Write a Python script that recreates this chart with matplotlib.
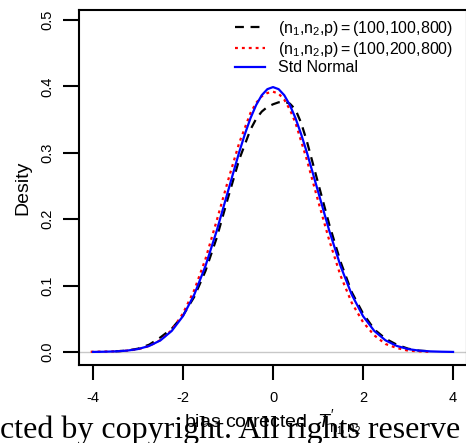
import matplotlib
matplotlib.use('Agg')
import matplotlib.pyplot as plt

plt.rcParams['font.family'] = ['Liberation Sans', 'DejaVu Sans']
plt.rcParams['mathtext.fontset'] = 'custom'
plt.rcParams['mathtext.rm'] = 'Liberation Sans'
plt.rcParams['mathtext.it'] = 'Liberation Sans:italic'

# density curves
x_std = [-4, -3.75, -3.5, -3.25, -3, -2.75, -2.5, -2.25, -2, -1.75, -1.5, -1.25, -1, -0.875,
         -0.75, -0.625, -0.5, -0.375, -0.25, -0.125, 0, 0.125, 0.25, 0.375, 0.5, 0.625,
         0.75, 0.875, 1, 1.25, 1.5, 1.75, 2, 2.25, 2.5, 2.75, 3, 3.25, 3.5, 3.75, 4]
y_std = [0.0001, 0.0004, 0.0009, 0.002, 0.0044, 0.0091, 0.0175, 0.0317, 0.054, 0.0863,
         0.1295, 0.1826, 0.242, 0.2717, 0.3011, 0.328, 0.3521, 0.3718, 0.3867, 0.3958,
         0.3989, 0.3958, 0.3867, 0.3718, 0.3521, 0.328, 0.3011, 0.2717, 0.242, 0.1826,
         0.1295, 0.0863, 0.054, 0.0317, 0.0175, 0.0091, 0.0044, 0.002, 0.0009, 0.0004,
         0.0001]

x_a = [-3.5, -3.25, -3, -2.75, -2.5, -2.25, -2, -1.75, -1.5, -1.25, -1, -0.75, -0.5, -0.375,
       -0.25, -0.125, 0, 0.125, 0.25, 0.375, 0.5, 0.625, 0.75, 1, 1.25, 1.5, 1.75, 2,
       2.25, 2.5, 2.75, 3, 3.25, 3.5]
y_a = [0.001, 0.002, 0.005, 0.011, 0.022, 0.035, 0.055, 0.083, 0.122, 0.172, 0.232, 0.29,
       0.335, 0.351, 0.362, 0.369, 0.373, 0.376, 0.377, 0.374, 0.365, 0.345, 0.318, 0.255,
       0.192, 0.136, 0.09, 0.058, 0.034, 0.02, 0.011, 0.005, 0.002, 0.001]

x_b = [-4.05, -3.75, -3.5, -3.25, -3, -2.75, -2.5, -2.25, -2, -1.75, -1.5, -1.25, -1, -0.75,
       -0.5, -0.375, -0.25, -0.125, 0, 0.125, 0.25, 0.375, 0.5, 0.75, 1, 1.25, 1.5, 1.75,
       2, 2.25, 2.5, 2.75, 3, 3.25, 3.45]
y_b = [0.0003, 0.0006, 0.001, 0.002, 0.004, 0.009, 0.018, 0.033, 0.058, 0.093, 0.14, 0.198,
       0.258, 0.315, 0.36, 0.375, 0.385, 0.39, 0.392, 0.389, 0.38, 0.365, 0.345, 0.29,
       0.228, 0.168, 0.115, 0.074, 0.045, 0.025, 0.012, 0.006, 0.002, 0.001, 0.0003]

lab_a = r'$(\mathrm{n}_1{,}\mathrm{n}_2{,}\mathrm{p})=(100{,}100{,}800)$'
lab_b = r'$(\mathrm{n}_1{,}\mathrm{n}_2{,}\mathrm{p})=(100{,}200{,}800)$'

fig = plt.figure(figsize=(4.66, 4.43), dpi=100)
ax = fig.add_axes([79/466, 1-365/443, 388/466, 355/443])

ax.axhline(0, color='#c8c8c8', lw=1, zorder=0)
ax.plot(x_a, y_a, color='black', lw=1.6, ls=(0, (4, 3)), label=lab_a)
ax.plot(x_b, y_b, color='red', lw=1.6, ls=(0, (1.3, 1.8)), label=lab_b)
ax.plot(x_std, y_std, color='blue', lw=1.6, label='Std Normal')

ax.set_xlim(-4.31, 4.31)
ax.set_ylim(-0.0196, 0.515)
ax.set_xticks([-4, -2, 0, 2, 4])
ax.set_xticklabels(['-4', '-2', '0', '2', '4'])
ax.set_yticks([0.0, 0.1, 0.2, 0.3, 0.4, 0.5])
ax.set_yticklabels(['0.0', '0.1', '0.2', '0.3', '0.4', '0.5'], rotation=90, va='center')
ax.tick_params(axis='x', length=11, width=1.5, pad=8, labelsize=10.5)
ax.tick_params(axis='y', length=11.5, width=1.5, pad=6, labelsize=10.5)
for s in ax.spines.values():
    s.set_linewidth(1.5)

ax.set_ylabel('Desity', fontsize=14, labelpad=7)
ax.set_xlabel(r"bias corrected  $T^{\prime}_{\mathrm{n}_1\!,\mathrm{n}_2}$", fontsize=14,
              labelpad=2)

ax.legend(loc='upper left', bbox_to_anchor=((237-79)/388 - 0.005, (365-19)/355),
          frameon=False, fontsize=11.5, handlelength=1.9, handletextpad=0.8,
          labelspacing=0.1, borderpad=0, borderaxespad=0)

fig.text(0.0, 1-438/443, 'cted by copyright. All rights reserve', fontsize=23,
         family='Liberation Serif', ha='left', va='baseline')

fig.savefig('out.png', dpi=100)
